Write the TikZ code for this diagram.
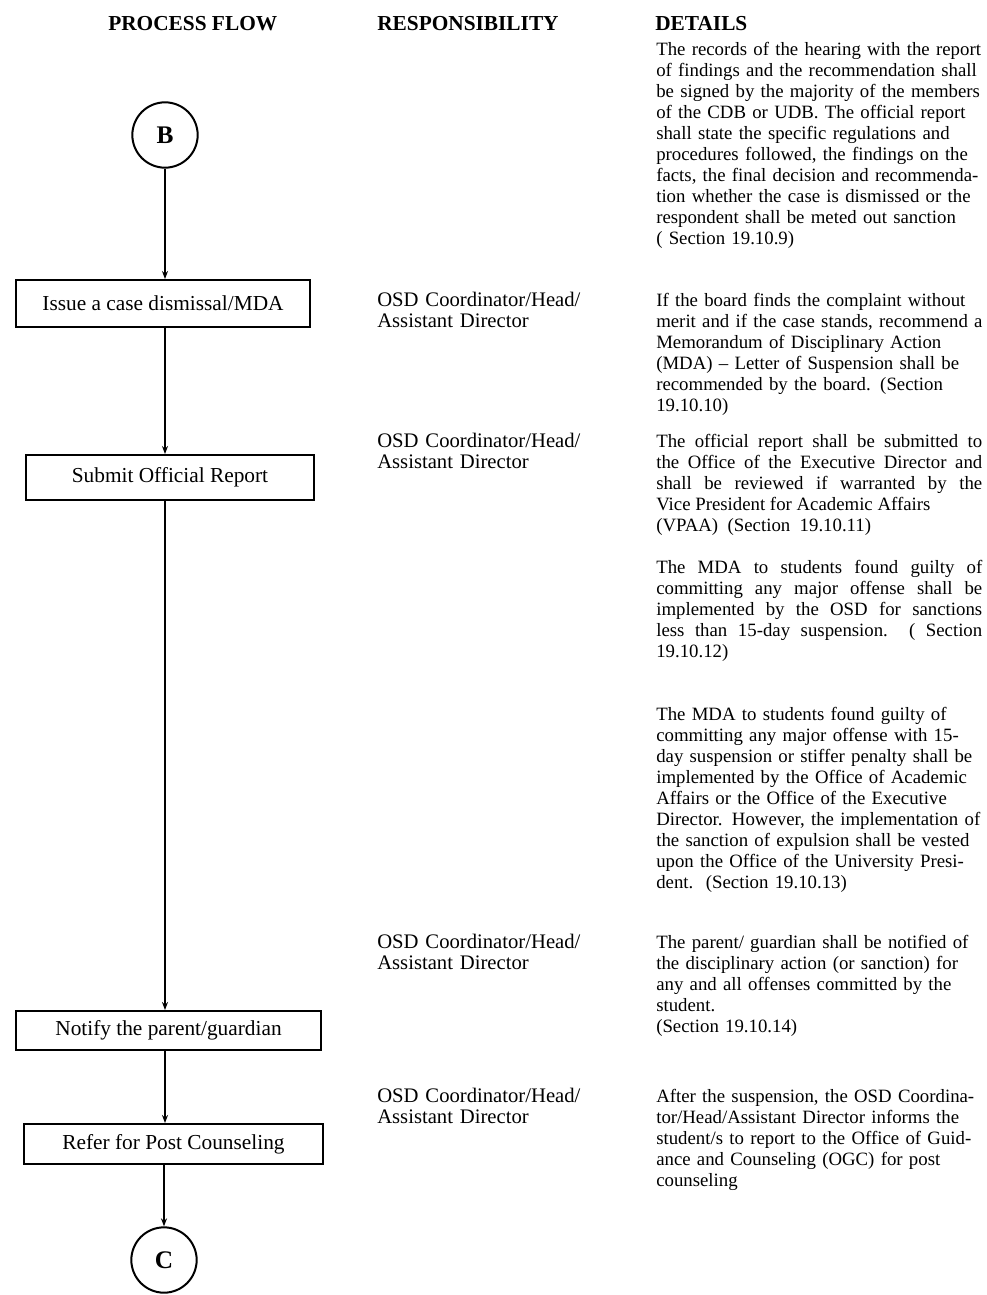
\documentclass[tikz,border=0pt]{standalone}
\usepackage{fontspec}
\setmainfont{Liberation Serif}
\usetikzlibrary{arrows.meta}
\hyphenpenalty=10000
\exhyphenpenalty=10000
\tolerance=9999

\begin{document}
\begin{tikzpicture}[x=0.75pt,y=-0.75pt,
    font=\fontsize{14.1pt}{15.75pt}\selectfont,
    every node/.style={inner sep=0pt},
    stepbox/.style={draw,line width=1.5pt,align=center,font=\fontsize{16pt}{15.75pt}\selectfont},
    connector/.style={draw,circle,line width=1.5pt,minimum size=49pt,font=\fontsize{19pt}{20pt}\selectfont\bfseries},
    flow/.style={line width=1.1pt,-{Stealth[length=6pt,width=4.5pt]}},
    head/.style={font=\fontsize{16pt}{15.75pt}\selectfont\bfseries},
    duty/.style={anchor=north west,align=left,text width=170pt,font=\fontsize{15.5pt}{15.75pt}\selectfont},
    detail/.style={anchor=north west,align=left,text width=252pt},
    detailj/.style={anchor=north west,align=justify,text width=244.5pt}]
  \useasboundingbox (0,0) rectangle (986,1295);
  % column heads
  \node[head,anchor=base west] (hflow) at (108,31) {PROCESS FLOW};
  \node[head,anchor=base west] (hresp) at (377,31) {RESPONSIBILITY};
  \node[head,anchor=base west] (hdet) at (655,31) {DETAILS};
  % process flow
  \node[connector] (B) at (165,135) {B};
  \node[stepbox,minimum width=220.5pt,minimum height=35.25pt] (dismiss) at (163,303.5) {Issue a case dismissal/MDA};
  \node[stepbox,minimum width=216pt,minimum height=33.75pt] (report) at (170,477.5) {Submit Official Report};
  \node[stepbox,minimum width=228.75pt,minimum height=29.25pt] (notify) at (168.5,1030.5) {Notify the parent/guardian};
  \node[stepbox,minimum width=224.25pt,minimum height=30pt] (refer) at (173.5,1144) {Refer for Post Counseling};
  \node[connector] (C) at (164,1260) {C};
  \draw[flow] (B) -- (B |- dismiss.north);
  \draw[flow] (dismiss.south -| B) -- (report.north -| B);
  \draw[flow] (report.south -| B) -- (notify.north -| B);
  \draw[flow] (notify.south -| B) -- (refer.north -| B);
  \draw[flow] (refer.south -| C) -- (C);
  % responsibility
  \foreach \y/\name in {292/rdismiss,433/rreport,934/rnotify,1088/rrefer}
    \node[duty] (\name) at (377,\y) {\strut OSD Coordinator/Head/\\Assistant Director};
  % details
  \node[detail] (dhearing) at (656,41) {\strut The records of the hearing with the report\\
    of findings and the recommendation shall\\
    be signed by the majority of the members\\
    of the CDB or UDB. The official report\\
    shall state the specific regulations and\\
    procedures followed, the findings on the\\
    facts, the final decision and recommenda-\\
    tion whether the case is dismissed or the\\
    respondent shall be meted out sanction\\
    ( Section 19.10.9)};
  \node[detail] (ddismiss) at (656,292) {\strut If the board finds the complaint without\\
    merit and if the case stands, recommend a\\
    Memorandum of Disciplinary Action\\
    (MDA) -- Letter of Suspension shall be\\
    recommended by the board. (Section\\
    19.10.10)};
  \node[detailj] (dreport) at (656,433) {\strut The official report shall be submitted to
    \linebreak the Office of the Executive Director and
    \linebreak shall be reviewed if warranted by the
    \linebreak Vice President for Academic Affairs\newline
    (VPAA)~~(Section~~19.10.11)};
  \node[detailj] (dosd) at (656,559) {\strut The MDA to students found guilty of
    \linebreak committing any major offense shall be
    \linebreak implemented by the OSD for sanctions
    \linebreak less than 15-day suspension.~~( Section\linebreak
    19.10.12)};
  \node[detail] (doaa) at (656,706) {\strut The MDA to students found guilty of\\
    committing any major offense with 15-\\
    day suspension or stiffer penalty shall be\\
    implemented by the Office of Academic\\
    Affairs or the Office of the Executive\\
    Director. However, the implementation of\\
    the sanction of expulsion shall be vested\\
    upon the Office of the University Presi-\\
    dent.~~(Section 19.10.13)};
  \node[detail] (dnotify) at (656,934) {\strut The parent/ guardian shall be notified of\\
    the disciplinary action (or sanction) for\\
    any and all offenses committed by the\\
    student.\\
    (Section 19.10.14)};
  \node[detail] (drefer) at (656,1088) {\strut After the suspension, the OSD Coordina-\\
    tor/Head/Assistant Director informs the\\
    student/s to report to the Office of Guid-\\
    ance and Counseling (OGC) for post\\
    counseling};
\end{tikzpicture}
\end{document}
